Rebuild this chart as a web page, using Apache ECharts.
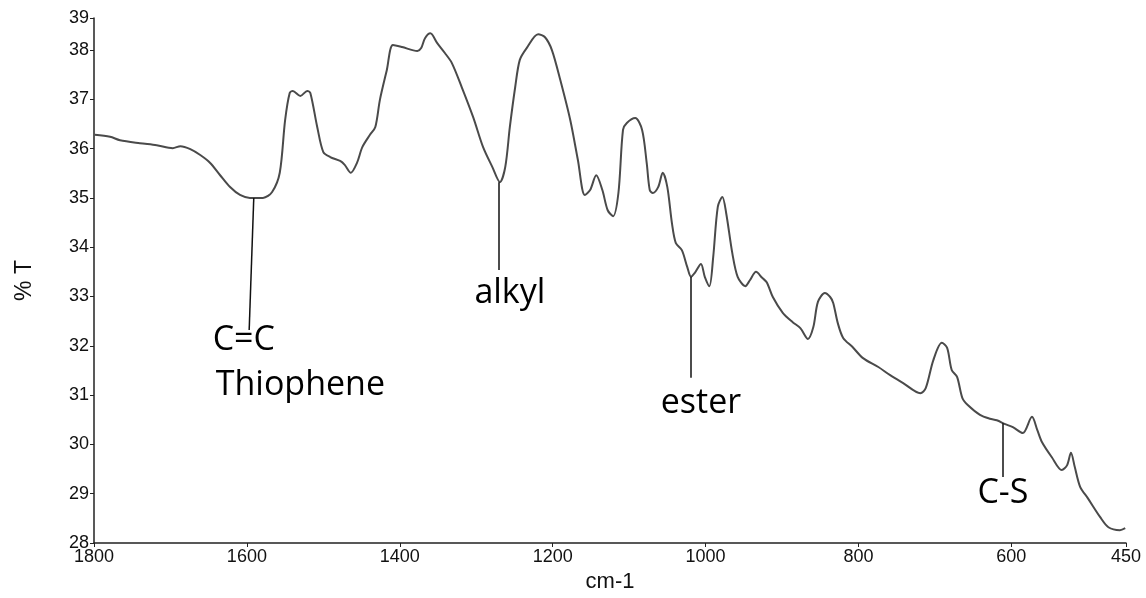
<!DOCTYPE html>
<html>
<head>
<meta charset="utf-8">
<script src="https://cdn.jsdelivr.net/npm/echarts@6/dist/echarts.min.js"></script>
<style>
html,body{margin:0;padding:0;background:#fff;}
#c{width:1146px;height:598px;}
</style>
</head>
<body>
<div id="c"></div>
<script>
const wavenumber = [1799,1779,1766,1740,1718,1697,1687,1674,1661,1648,1635,1622,1609,1596,1579,1567,1557,1550,1544,1540,1530,1521,1517,1508,1500,1491,1478,1472,1464,1456,1449,1439,1432,1426,1417,1409,1397,1377,1372,1367,1360,1351,1341,1332,1319,1304,1291,1279,1269,1262,1256,1249,1243,1234,1219,1210,1201,1190,1177,1167,1158,1151,1143,1135,1128,1121,1114,1108,1103,1092,1083,1077,1073,1069,1062,1056,1050,1044,1039,1031,1024,1019,1014,1006,1001,995,990,984,978,973,965,958,948,942,934,926,920,912,899,886,876,866,859,853,844,837,833,827,820,808,794,774,759,742,719,712,702,691,684,678,671,664,657,641,628,619,608,598,585,573,566,560,547,534,527,522,517,510,500,484,473,458,451];
const transmittance = [36.28,36.24,36.17,36.11,36.07,36.01,36.05,35.99,35.87,35.71,35.46,35.22,35.06,35.00,35.00,35.12,35.51,36.58,37.13,37.17,37.07,37.17,37.13,36.44,35.93,35.83,35.75,35.67,35.51,35.71,36.03,36.28,36.44,36.99,37.59,38.10,38.06,37.98,38.04,38.24,38.34,38.14,37.94,37.74,37.25,36.64,36.03,35.63,35.32,35.63,36.44,37.25,37.80,38.04,38.32,38.26,38.00,37.39,36.58,35.77,35.06,35.16,35.46,35.16,34.75,34.63,35.10,36.38,36.52,36.62,36.38,35.71,35.16,35.10,35.22,35.51,35.22,34.49,34.09,33.94,33.60,33.40,33.48,33.66,33.40,33.21,33.80,34.82,35.02,34.69,33.88,33.40,33.21,33.33,33.50,33.38,33.29,32.99,32.67,32.48,32.36,32.14,32.38,32.89,33.07,32.99,32.87,32.46,32.16,31.98,31.75,31.57,31.41,31.25,31.04,31.14,31.71,32.06,31.96,31.51,31.37,30.94,30.80,30.60,30.52,30.49,30.41,30.35,30.23,30.56,30.29,30.05,29.74,29.48,29.58,29.83,29.54,29.14,28.91,28.53,28.32,28.26,28.30];

const xTicks = [1800,1600,1400,1200,1000,800,600,450];
const yTicks = [28,29,30,31,32,33,34,35,36,37,38,38.65];

const annotationLabels = ["C=C", "Thiophene", "alkyl", "ester", "C-S"];
const labelX = [1604, 1530, 1256, 1006, 611];
const labelY = [32.12, 31.20, 33.07, 30.84, 29.01];

const leaderX1 = [1591, 1271, 1020, 611];
const leaderY1 = [35.00, 35.32, 33.40, 30.43];
const leaderX2 = [1597, 1271, 1020, 611];
const leaderY2 = [32.32, 33.54, 31.35, 29.34];

const chart = echarts.init(document.getElementById('c'));
const fam = '"Liberation Sans", Arial, sans-serif';
chart.setOption({
  animation: false,
  backgroundColor: '#fff',
  grid: {left: 94, right: 20, top: 18, bottom: 55},
  xAxis: {
    type: 'value', inverse: true, min: 450, max: 1800,
    name: 'cm-1', nameLocation: 'middle', nameGap: 27,
    nameTextStyle: {fontFamily: fam, fontSize: 22, color: '#111'},
    splitLine: {show: false},
    axisLine: {lineStyle: {color: '#222', width: 1.5}},
    axisTick: {show: true, length: 4, customValues: xTicks, lineStyle: {color: '#222'}},
    axisLabel: {customValues: xTicks, fontFamily: fam, fontSize: 18, color: '#111', margin: 5,
      formatter: v => String(Math.round(v))}
  },
  yAxis: {
    type: 'value', min: 28, max: 38.65,
    name: '% T', nameLocation: 'middle', nameGap: 58, nameRotate: 90,
    nameTextStyle: {fontFamily: fam, fontSize: 23, color: '#111'},
    splitLine: {show: false},
    axisLine: {show: true, lineStyle: {color: '#222', width: 1.5}},
    axisTick: {show: true, length: 4, customValues: yTicks, lineStyle: {color: '#222'}},
    axisLabel: {customValues: yTicks, fontFamily: fam, fontSize: 18, color: '#111', margin: 5,
      formatter: v => String(Math.round(v))}
  },
  series: [
    {
      type: 'line',
      data: wavenumber.map((w, i) => [w, transmittance[i]]),
      showSymbol: false, smooth: 0.3,
      lineStyle: {color: '#4a4a4a', width: 2},
      markLine: {
        silent: true, symbol: 'none', label: {show: false},
        lineStyle: {color: '#111', width: 1.5, type: 'solid'},
        data: leaderX1.map((x, i) => [{coord: [x, leaderY1[i]]}, {coord: [leaderX2[i], leaderY2[i]]}])
      }
    },
    {
      type: 'scatter', symbolSize: 0, silent: true,
      data: annotationLabels.map((t, i) => ({name: t, value: [labelX[i], labelY[i]]})),
      label: {show: true, position: 'inside', formatter: p => p.name,
        fontFamily: '"Open Sans", sans-serif', fontSize: 34, color: '#000', opacity: 1}
    }
  ]
});
</script>
</body>
</html>
